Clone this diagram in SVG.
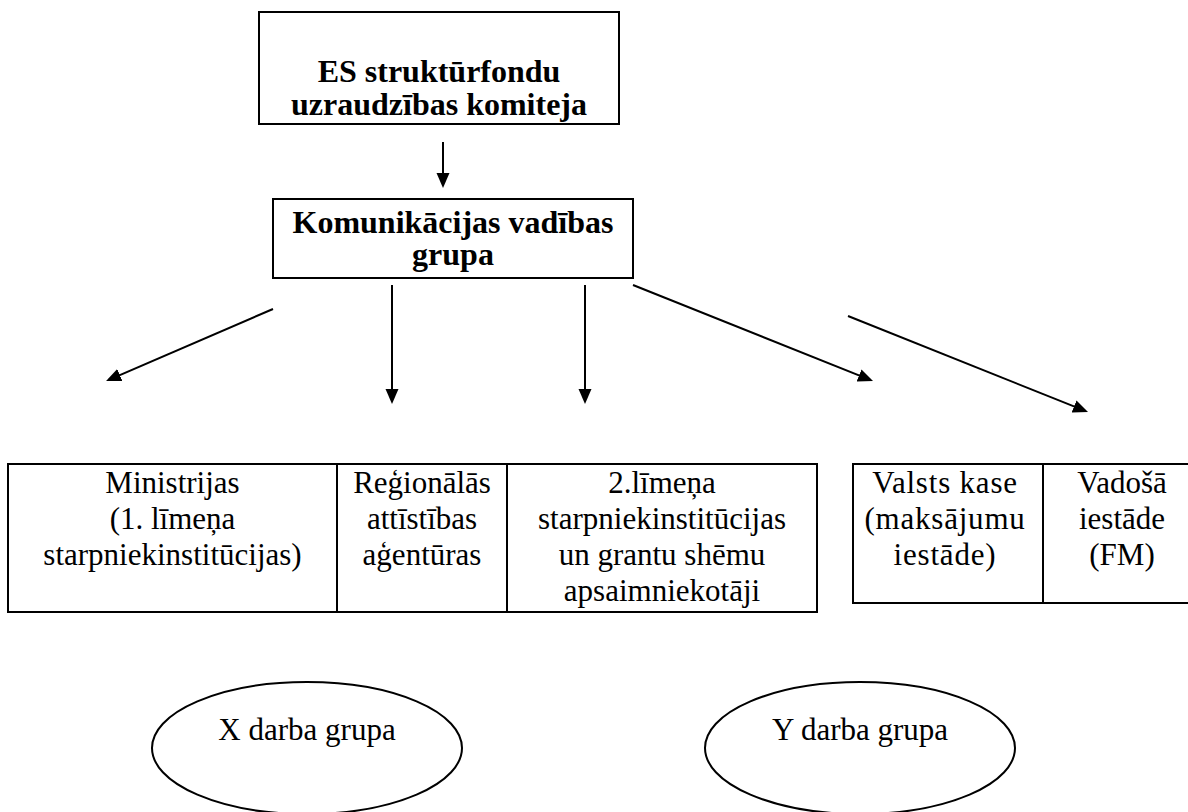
<svg xmlns="http://www.w3.org/2000/svg" width="1188" height="812" viewBox="0 0 1188 812">
<style>
  .box{fill:#fff;stroke:#000;stroke-width:2}
  .ln{fill:none;stroke:#000;stroke-width:2}
  .b{font-family:"Liberation Serif","Times New Roman",serif;font-size:32px;font-weight:bold;text-anchor:middle;fill:#000}
  .t{font-family:"Liberation Serif","Times New Roman",serif;font-size:31px;text-anchor:middle;fill:#000}
  .sp{letter-spacing:0.8px}
  .c{fill:none;stroke:#000;stroke-width:2}
</style>
<defs>
  <marker id="ah" markerUnits="userSpaceOnUse" markerWidth="16" markerHeight="14" refX="12" refY="6.5" orient="auto">
    <path d="M0,0 L15,6.5 L0,13 z" fill="#000"/>
  </marker>
</defs>
<rect width="1188" height="812" fill="#fff"/>

<g id="uzraudzibas-komiteja">
  <rect class="box" x="259" y="12" width="360" height="112"/>
  <text class="b" x="439" y="82">ES struktūrfondu</text>
  <text class="b" x="439" y="115">uzraudzības komiteja</text>
</g>

<g id="komunikacijas-grupa">
  <rect class="box" x="273" y="199" width="360" height="79"/>
  <text class="b" x="453" y="233">Komunikācijas vadības</text>
  <text class="b" x="453" y="265">grupa</text>
</g>

<g id="connectors">
  <line class="c" x1="443" y1="142" x2="443" y2="185" marker-end="url(#ah)"/>
  <line class="c" x1="273" y1="309" x2="108.8" y2="379.8" marker-end="url(#ah)"/>
  <line class="c" x1="392" y1="285" x2="392" y2="401" marker-end="url(#ah)"/>
  <line class="c" x1="585" y1="285" x2="585" y2="401" marker-end="url(#ah)"/>
  <line class="c" x1="633" y1="285" x2="870.2" y2="379.9" marker-end="url(#ah)"/>
  <line class="c" x1="848" y1="316" x2="1085.2" y2="410.9" marker-end="url(#ah)"/>
</g>

<g id="table-starpniekinstitucijas">
  <rect class="box" x="8" y="464" width="809" height="148"/>
  <line class="ln" x1="337" y1="464" x2="337" y2="612"/>
  <line class="ln" x1="507" y1="464" x2="507" y2="612"/>
</g>
<g id="ministrijas">
  <text class="t" x="172.5" y="493">Ministrijas</text>
  <text class="t" x="172.5" y="529">(1. līmeņa</text>
  <text class="t" x="172.5" y="565">starpniekinstitūcijas)</text>
</g>
<g id="regionalas-agenturas">
  <text class="t" x="422" y="493">Reģionālās</text>
  <text class="t" x="422" y="529">attīstības</text>
  <text class="t" x="422" y="565">aģentūras</text>
</g>
<g id="otra-limena">
  <text class="t" x="662" y="493">2.līmeņa</text>
  <text class="t" x="662" y="529">starpniekinstitūcijas</text>
  <text class="t" x="662" y="565">un grantu shēmu</text>
  <text class="t" x="662" y="601">apsaimniekotāji</text>
</g>

<g id="table-iestades">
  <path class="ln" d="M1188,464 H853 V603 H1188"/>
  <line class="ln" x1="1043" y1="464" x2="1043" y2="603"/>
</g>
<g id="valsts-kase">
  <text class="t sp" x="945" y="493">Valsts kase</text>
  <text class="t sp" x="945" y="529">(maksājumu</text>
  <text class="t sp" x="945" y="565">iestāde)</text>
</g>
<g id="vadosa-iestade">
  <text class="t" x="1122" y="493">Vadošā</text>
  <text class="t" x="1122" y="529">iestāde</text>
  <text class="t" x="1122" y="565">(FM)</text>
</g>

<g id="x-darba-grupa">
  <ellipse class="box" cx="307" cy="748" rx="155" ry="66"/>
  <text class="t" x="307" y="740">X darba grupa</text>
</g>
<g id="y-darba-grupa">
  <ellipse class="box" cx="860" cy="748" rx="155" ry="66"/>
  <text class="t" x="860" y="740">Y darba grupa</text>
</g>
</svg>
